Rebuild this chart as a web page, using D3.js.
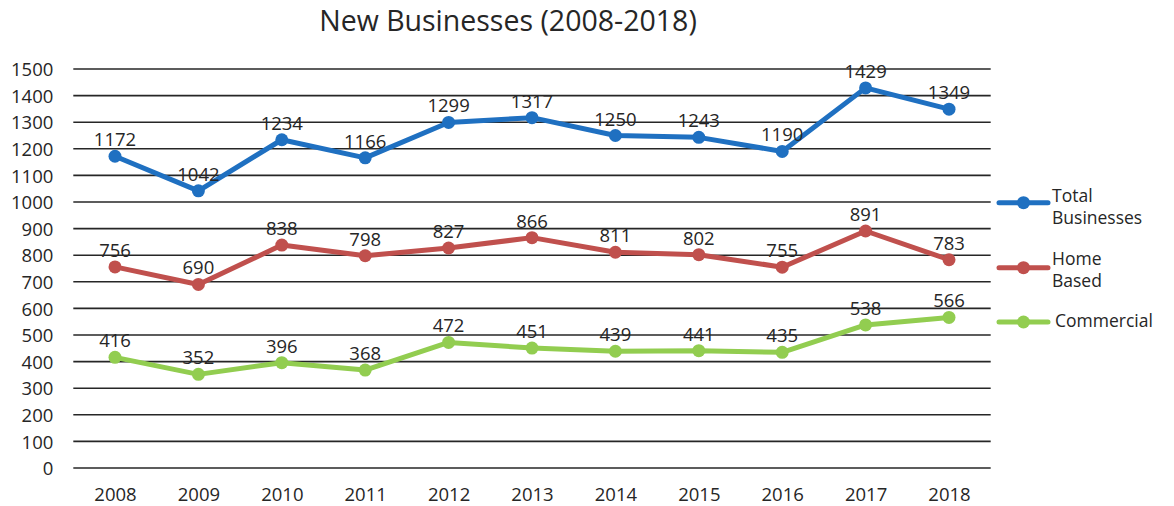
<!DOCTYPE html>
<html><head><meta charset="utf-8">
<script src="https://cdn.jsdelivr.net/npm/d3@7/dist/d3.min.js"></script>
<style>body{margin:0;background:#fff}svg{display:block}text{font-family:"Open Sans",sans-serif;fill:#262626}</style>
</head><body><svg id="c" width="1174" height="506"></svg>
<script>
const years = ["2008","2009","2010","2011","2012","2013","2014","2015","2016","2017","2018"];
const totalBusinesses = [1172,1042,1234,1166,1299,1317,1250,1243,1190,1429,1349];
const homeBased = [756,690,838,798,827,866,811,802,755,891,783];
const commercial = [416,352,396,368,472,451,439,441,435,538,566];
const yTicks = [0,100,200,300,400,500,600,700,800,900,1000,1100,1200,1300,1400,1500];
const seriesNames = [["Total","Businesses"],["Home","Based"],["Commercial"]];
const colors = ["#1F70C1","#C0504D","#92CD50"];

const svg = d3.select("#c");
const x = d3.scalePoint().domain(years).range([73.3,990.7]).padding(0.5);
const y = d3.scaleLinear().domain([0,1500]).range([468,69]);

svg.append("text").attr("x",508).attr("y",31).attr("text-anchor","middle")
  .style("font-size","28.5px").text("New Businesses (2008-2018)");

const yAxis = d3.axisLeft(y).tickValues(yTicks).tickFormat(d3.format("d")).tickSize(0).tickPadding(20);
const gy = svg.append("g").attr("transform","translate(73.3,0)").call(yAxis);
gy.select(".domain").remove();
gy.selectAll("text").style("font-size","18.5px").attr("fill","#262626").attr("dy","0.36em");

svg.append("g").selectAll("line").data(yTicks).join("line")
  .attr("x1",73.3).attr("x2",990.7).attr("y1",d=>y(d)).attr("y2",d=>y(d))
  .attr("stroke","#262626").attr("stroke-width",1.6);

const xAxis = d3.axisBottom(x).tickSize(0).tickPadding(0);
const gx = svg.append("g").attr("transform","translate(0,488)").call(xAxis);
gx.select(".domain").remove();
gx.selectAll("text").style("font-size","18.5px").attr("fill","#262626").attr("dy","0.7em");

const allSeries = [totalBusinesses, homeBased, commercial];
const line = d3.line().x((d,i)=>x(years[i])).y(d=>y(d));
allSeries.forEach((vals,si)=>{
  const g = svg.append("g");
  g.append("path").datum(vals).attr("d",line).attr("fill","none")
    .attr("stroke",colors[si]).attr("stroke-width",5).attr("stroke-linejoin","round");
  g.selectAll("circle").data(vals).join("circle")
    .attr("cx",(d,i)=>x(years[i])).attr("cy",d=>y(d)).attr("r",6.5).attr("fill",colors[si]);
  g.selectAll("text").data(vals).join("text")
    .attr("x",(d,i)=>x(years[i])).attr("y",d=>y(d)-10).attr("text-anchor","middle")
    .style("font-size","18.5px").text(d=>d);
});

// legend
const legY = [202.7, 267.7, 322];
const legTextY = [[201.5,223.5],[264.5,286.5],[327]];
const legTextX = [1052,1052,1055];
seriesNames.forEach((nm,i)=>{
  const g = svg.append("g");
  g.append("line").attr("x1",999).attr("x2",1048).attr("y1",legY[i]).attr("y2",legY[i])
    .attr("stroke",colors[i]).attr("stroke-width",5).attr("stroke-linecap","round");
  g.append("circle").attr("cx",1023.5).attr("cy",legY[i]).attr("r",6.5).attr("fill",colors[i]);
  nm.forEach((t,j)=>{
    g.append("text").attr("x",legTextX[i]).attr("y",legTextY[i][j]).style("font-size","17.5px").text(t);
  });
});
</script></body></html>
